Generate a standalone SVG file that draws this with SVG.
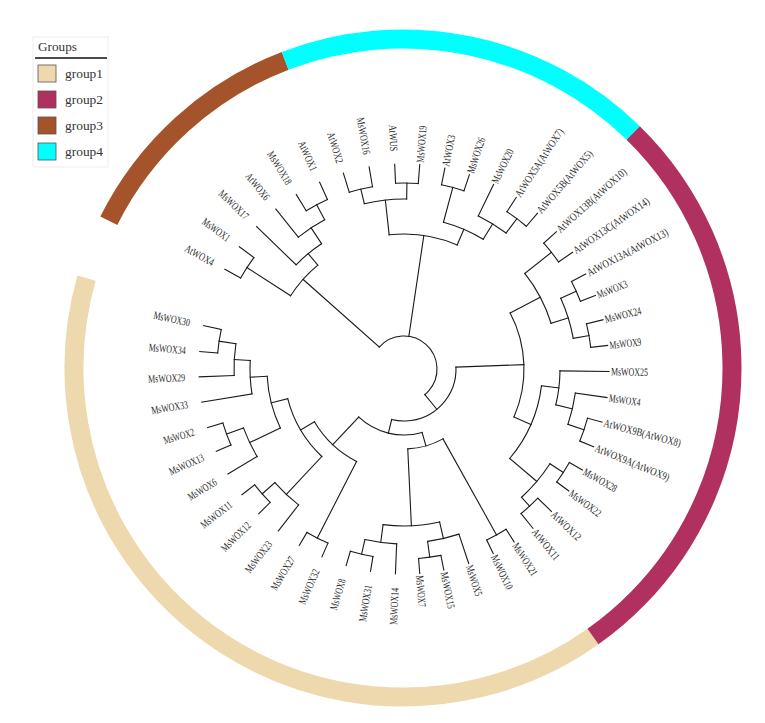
<svg xmlns="http://www.w3.org/2000/svg" width="765" height="723" viewBox="0 0 765 723">
<style>
.br line,.br circle{fill:none;stroke:#1a1a1a;stroke-width:1.1;stroke-linecap:square}
.lb text{font-family:"Liberation Serif",serif;font-size:11px;fill:#2a2a2a}
.lb .l{text-anchor:end}
.lg text{font-family:"Liberation Serif",serif;font-size:13.5px;fill:#333}
.sw{stroke:#555;stroke-width:0.8}
</style>
<rect width="765" height="723" fill="#fff"/>
<g id="group-ring" transform="translate(403 368)" fill="none" stroke-width="19">
<circle r="329" stroke="#EED9AE" stroke-dasharray="810.2 3000" transform="rotate(54.7)"/>
<circle r="329" stroke="#A5532B" stroke-dasharray="243.5 3000" transform="rotate(206.6)"/>
<circle r="329" stroke="#00FFFF" stroke-dasharray="375.5 3000" transform="rotate(249)"/>
<circle r="329" stroke="#B0305F" stroke-dasharray="575.9 3000" transform="rotate(314.4)"/>
</g>
<g id="legend" class="lg">
<rect x="33" y="37" width="75" height="130" fill="#fff" stroke="#eee"/>
<text x="38" y="51" textLength="39" lengthAdjust="spacingAndGlyphs">Groups</text>
<line x1="35" y1="58" x2="107" y2="58" stroke="#111" stroke-width="1.4"/>
<rect class="sw" x="38" y="65" width="18" height="17" fill="#EED9AE"/>
<rect class="sw" x="38" y="91" width="18" height="17" fill="#B0305F"/>
<rect class="sw" x="38" y="117" width="18" height="17" fill="#A5532B"/>
<rect class="sw" x="38" y="143" width="18" height="17" fill="#00FFFF"/>
<text x="65" y="78" textLength="38" lengthAdjust="spacingAndGlyphs">group1</text>
<text x="65" y="104" textLength="38" lengthAdjust="spacingAndGlyphs">group2</text>
<text x="65" y="130" textLength="38" lengthAdjust="spacingAndGlyphs">group3</text>
<text x="65" y="156" textLength="38" lengthAdjust="spacingAndGlyphs">group4</text>
</g>
<g id="tree-branches" class="br" transform="translate(404 369)">
<line x1="187" x2="205" transform="rotate(209.1)"/>
<line x1="187" x2="205" transform="rotate(216.6)"/>
<line x1="150" x2="205" transform="rotate(224)"/>
<line x1="169" x2="205" transform="rotate(231.3)"/>
<line x1="186" x2="205" transform="rotate(238.3)"/>
<line x1="186" x2="205" transform="rotate(245.7)"/>
<line x1="185" x2="205" transform="rotate(252.8)"/>
<line x1="185" x2="205" transform="rotate(260.2)"/>
<line x1="186" x2="205" transform="rotate(267.4)"/>
<line x1="186" x2="205" transform="rotate(274.4)"/>
<line x1="188" x2="205" transform="rotate(281.5)"/>
<line x1="188" x2="205" transform="rotate(288.6)"/>
<line x1="170" x2="205" transform="rotate(295.9)"/>
<line x1="188" x2="205" transform="rotate(303.2)"/>
<line x1="188" x2="205" transform="rotate(310.6)"/>
<line x1="188" x2="205" transform="rotate(318)"/>
<line x1="188" x2="205" transform="rotate(325.3)"/>
<line x1="189" x2="205" transform="rotate(332.4)"/>
<line x1="189" x2="205" transform="rotate(339)"/>
<line x1="188" x2="205" transform="rotate(346.1)"/>
<line x1="188" x2="205" transform="rotate(353.4)"/>
<line x1="156" x2="205" transform="rotate(0.7)"/>
<line x1="173" x2="205" transform="rotate(8)"/>
<line x1="190" x2="205" transform="rotate(15)"/>
<line x1="190" x2="205" transform="rotate(22.3)"/>
<line x1="190" x2="205" transform="rotate(29.5)"/>
<line x1="190" x2="205" transform="rotate(36.5)"/>
<line x1="186" x2="205" transform="rotate(44)"/>
<line x1="186" x2="205" transform="rotate(51)"/>
<line x1="190" x2="205" transform="rotate(57.5)"/>
<line x1="190" x2="205" transform="rotate(64.2)"/>
<line x1="174" x2="205" transform="rotate(71.6)"/>
<line x1="190" x2="205" transform="rotate(78.8)"/>
<line x1="190" x2="205" transform="rotate(85.6)"/>
<line x1="175" x2="205" transform="rotate(92.4)"/>
<line x1="190" x2="205" transform="rotate(99.4)"/>
<line x1="190" x2="205" transform="rotate(106.4)"/>
<line x1="190" x2="205" transform="rotate(113.6)"/>
<line x1="190" x2="205" transform="rotate(120.7)"/>
<line x1="172" x2="205" transform="rotate(127.8)"/>
<line x1="189" x2="205" transform="rotate(135.1)"/>
<line x1="189" x2="205" transform="rotate(142.2)"/>
<line x1="171" x2="205" transform="rotate(149.2)"/>
<line x1="189" x2="205" transform="rotate(156.3)"/>
<line x1="189" x2="205" transform="rotate(163.4)"/>
<line x1="154" x2="205" transform="rotate(170.7)"/>
<line x1="170" x2="205" transform="rotate(177.8)"/>
<line x1="187" x2="205" transform="rotate(184.9)"/>
<line x1="187" x2="205" transform="rotate(192.2)"/>
<line x1="135" x2="187" transform="rotate(212.85)"/>
<line x1="169" x2="186" transform="rotate(242)"/>
<line x1="150" x2="169" transform="rotate(236.65)"/>
<line x1="135" x2="150" transform="rotate(230.3)"/>
<line x1="33" x2="135" transform="rotate(221.6)"/>
<line x1="170" x2="185" transform="rotate(256.5)"/>
<line x1="170" x2="186" transform="rotate(270.9)"/>
<line x1="135" x2="170" transform="rotate(263.7)"/>
<line x1="152" x2="188" transform="rotate(285.05)"/>
<line x1="170" x2="188" transform="rotate(306.9)"/>
<line x1="152" x2="170" transform="rotate(301.4)"/>
<line x1="135" x2="152" transform="rotate(293.2)"/>
<line x1="33" x2="135" transform="rotate(278.45)"/>
<line x1="154" x2="188" transform="rotate(321.65)"/>
<line x1="172" x2="189" transform="rotate(335.7)"/>
<line x1="172" x2="188" transform="rotate(349.75)"/>
<line x1="154" x2="172" transform="rotate(342.7)"/>
<line x1="120" x2="154" transform="rotate(332.2)"/>
<line x1="173" x2="190" transform="rotate(18.65)"/>
<line x1="156" x2="173" transform="rotate(13.3)"/>
<line x1="138.5" x2="156" transform="rotate(7)"/>
<line x1="174" x2="190" transform="rotate(33)"/>
<line x1="174" x2="186" transform="rotate(47.5)"/>
<line x1="138.5" x2="174" transform="rotate(40.25)"/>
<line x1="120" x2="138.5" transform="rotate(23.6)"/>
<line x1="52" x2="120" transform="rotate(357.9)"/>
<line x1="80" x2="190" transform="rotate(60.85)"/>
<line x1="174" x2="190" transform="rotate(82.2)"/>
<line x1="157" x2="174" transform="rotate(76.9)"/>
<line x1="175" x2="190" transform="rotate(102.9)"/>
<line x1="157" x2="175" transform="rotate(97.65)"/>
<line x1="80" x2="157" transform="rotate(87.3)"/>
<line x1="66" x2="80" transform="rotate(74.1)"/>
<line x1="104" x2="190" transform="rotate(117.15)"/>
<line x1="172" x2="189" transform="rotate(138.65)"/>
<line x1="120" x2="172" transform="rotate(133.2)"/>
<line x1="171" x2="189" transform="rotate(159.85)"/>
<line x1="137" x2="171" transform="rotate(154.5)"/>
<line x1="170" x2="187" transform="rotate(188.55)"/>
<line x1="154" x2="170" transform="rotate(183.2)"/>
<line x1="137" x2="154" transform="rotate(176.95)"/>
<line x1="120" x2="137" transform="rotate(165.7)"/>
<line x1="104" x2="120" transform="rotate(149.45)"/>
<line x1="66" x2="104" transform="rotate(133.3)"/>
<line x1="52" x2="66" transform="rotate(103.7)"/>
<line x1="33" x2="52" transform="rotate(50.8)"/>
<circle r="187" stroke-dasharray="24.48 3000" transform="rotate(209.1)"/>
<circle r="186" stroke-dasharray="24.02 3000" transform="rotate(238.3)"/>
<circle r="169" stroke-dasharray="31.56 3000" transform="rotate(231.3)"/>
<circle r="150" stroke-dasharray="33.12 3000" transform="rotate(224)"/>
<circle r="135" stroke-dasharray="41.12 3000" transform="rotate(212.85)"/>
<circle r="185" stroke-dasharray="23.89 3000" transform="rotate(252.8)"/>
<circle r="186" stroke-dasharray="22.72 3000" transform="rotate(267.4)"/>
<circle r="170" stroke-dasharray="42.73 3000" transform="rotate(256.5)"/>
<circle r="188" stroke-dasharray="23.30 3000" transform="rotate(281.5)"/>
<circle r="188" stroke-dasharray="24.28 3000" transform="rotate(303.2)"/>
<circle r="170" stroke-dasharray="32.64 3000" transform="rotate(295.9)"/>
<circle r="152" stroke-dasharray="43.37 3000" transform="rotate(285.05)"/>
<circle r="135" stroke-dasharray="69.51 3000" transform="rotate(263.7)"/>
<circle r="188" stroke-dasharray="23.95 3000" transform="rotate(318)"/>
<circle r="189" stroke-dasharray="21.77 3000" transform="rotate(332.4)"/>
<circle r="188" stroke-dasharray="23.95 3000" transform="rotate(346.1)"/>
<circle r="172" stroke-dasharray="42.18 3000" transform="rotate(335.7)"/>
<circle r="154" stroke-dasharray="56.58 3000" transform="rotate(321.65)"/>
<circle r="190" stroke-dasharray="24.21 3000" transform="rotate(15)"/>
<circle r="173" stroke-dasharray="32.16 3000" transform="rotate(8)"/>
<circle r="156" stroke-dasharray="34.31 3000" transform="rotate(0.7)"/>
<circle r="190" stroke-dasharray="23.21 3000" transform="rotate(29.5)"/>
<circle r="186" stroke-dasharray="22.72 3000" transform="rotate(44)"/>
<circle r="174" stroke-dasharray="44.03 3000" transform="rotate(33)"/>
<circle r="138.5" stroke-dasharray="80.37 3000" transform="rotate(7)"/>
<circle r="120" stroke-dasharray="107.65 3000" transform="rotate(332.2)"/>
<circle r="190" stroke-dasharray="22.22 3000" transform="rotate(57.5)"/>
<circle r="190" stroke-dasharray="22.55 3000" transform="rotate(78.8)"/>
<circle r="174" stroke-dasharray="32.19 3000" transform="rotate(71.6)"/>
<circle r="190" stroke-dasharray="23.21 3000" transform="rotate(99.4)"/>
<circle r="175" stroke-dasharray="32.07 3000" transform="rotate(92.4)"/>
<circle r="157" stroke-dasharray="56.86 3000" transform="rotate(76.9)"/>
<circle r="80" stroke-dasharray="36.93 3000" transform="rotate(60.85)"/>
<circle r="190" stroke-dasharray="23.54 3000" transform="rotate(113.6)"/>
<circle r="189" stroke-dasharray="23.42 3000" transform="rotate(135.1)"/>
<circle r="172" stroke-dasharray="32.57 3000" transform="rotate(127.8)"/>
<circle r="189" stroke-dasharray="23.42 3000" transform="rotate(156.3)"/>
<circle r="171" stroke-dasharray="31.79 3000" transform="rotate(149.2)"/>
<circle r="187" stroke-dasharray="23.83 3000" transform="rotate(184.9)"/>
<circle r="170" stroke-dasharray="31.90 3000" transform="rotate(177.8)"/>
<circle r="154" stroke-dasharray="33.60 3000" transform="rotate(170.7)"/>
<circle r="137" stroke-dasharray="53.68 3000" transform="rotate(154.5)"/>
<circle r="120" stroke-dasharray="68.07 3000" transform="rotate(133.2)"/>
<circle r="104" stroke-dasharray="58.63 3000" transform="rotate(117.15)"/>
<circle r="66" stroke-dasharray="68.19 3000" transform="rotate(74.1)"/>
<circle r="52" stroke-dasharray="96.02 3000" transform="rotate(357.9)"/>
<circle r="33" stroke-dasharray="108.97 3000" transform="rotate(221.6)"/>
</g>
<g id="leaves" class="lb" transform="translate(404 369)">
<g id="AtWOX4"><text class="l" transform="rotate(209.1) translate(218 0) rotate(180)" y="3.8" textLength="31.8" lengthAdjust="spacingAndGlyphs">AtWOX4</text></g>
<g id="MsWOX1"><text class="l" transform="rotate(216.6) translate(218 0) rotate(180)" y="3.8" textLength="31.8" lengthAdjust="spacingAndGlyphs">MsWOX1</text></g>
<g id="MsWOX17"><text class="l" transform="rotate(224) translate(218 0) rotate(180)" y="3.8" textLength="37.1" lengthAdjust="spacingAndGlyphs">MsWOX17</text></g>
<g id="AtWOX6"><text class="l" transform="rotate(231.3) translate(218 0) rotate(180)" y="3.8" textLength="31.8" lengthAdjust="spacingAndGlyphs">AtWOX6</text></g>
<g id="MsWOX18"><text class="l" transform="rotate(238.3) translate(218 0) rotate(180)" y="3.8" textLength="37.1" lengthAdjust="spacingAndGlyphs">MsWOX18</text></g>
<g id="AtWOX1"><text class="l" transform="rotate(245.7) translate(218 0) rotate(180)" y="3.8" textLength="31.8" lengthAdjust="spacingAndGlyphs">AtWOX1</text></g>
<g id="AtWOX2"><text class="l" transform="rotate(252.8) translate(216 0) rotate(180)" y="3.8" textLength="31.8" lengthAdjust="spacingAndGlyphs">AtWOX2</text></g>
<g id="MsWOX16"><text class="l" transform="rotate(260.2) translate(218 0) rotate(180)" y="3.8" textLength="37.1" lengthAdjust="spacingAndGlyphs">MsWOX16</text></g>
<g id="AtWUS"><text class="l" transform="rotate(267.4) translate(218 0) rotate(180)" y="3.8" textLength="26.5" lengthAdjust="spacingAndGlyphs">AtWUS</text></g>
<g id="MsWOX19"><text transform="rotate(274.4) translate(207 0)" y="3.8" textLength="37.1" lengthAdjust="spacingAndGlyphs">MsWOX19</text></g>
<g id="AtWOX3"><text transform="rotate(281.5) translate(207 0)" y="3.8" textLength="31.8" lengthAdjust="spacingAndGlyphs">AtWOX3</text></g>
<g id="MsWOX26"><text transform="rotate(288.6) translate(207 0)" y="3.8" textLength="37.1" lengthAdjust="spacingAndGlyphs">MsWOX26</text></g>
<g id="MsWOX20"><text transform="rotate(295.9) translate(207 0)" y="3.8" textLength="37.1" lengthAdjust="spacingAndGlyphs">MsWOX20</text></g>
<g id="AtWOX5A"><text transform="rotate(303.2) translate(207 0)" y="3.8" textLength="79.5" lengthAdjust="spacingAndGlyphs">AtWOX5A(AtWOX7)</text></g>
<g id="AtWOX5B"><text transform="rotate(310.6) translate(207 0)" y="3.8" textLength="79.5" lengthAdjust="spacingAndGlyphs">AtWOX5B(AtWOX5)</text></g>
<g id="AtWOX13B"><text transform="rotate(318) translate(207 0)" y="3.8" textLength="90.1" lengthAdjust="spacingAndGlyphs">AtWOX13B(AtWOX10)</text></g>
<g id="AtWOX13C"><text transform="rotate(325.3) translate(207 0)" y="3.8" textLength="90.1" lengthAdjust="spacingAndGlyphs">AtWOX13C(AtWOX14)</text></g>
<g id="AtWOX13A"><text transform="rotate(332.4) translate(207 0)" y="3.8" textLength="90.1" lengthAdjust="spacingAndGlyphs">AtWOX13A(AtWOX13)</text></g>
<g id="MsWOX3"><text transform="rotate(339) translate(207 0)" y="3.8" textLength="31.8" lengthAdjust="spacingAndGlyphs">MsWOX3</text></g>
<g id="MsWOX24"><text transform="rotate(346.1) translate(207 0)" y="3.8" textLength="37.1" lengthAdjust="spacingAndGlyphs">MsWOX24</text></g>
<g id="MsWOX9"><text transform="rotate(353.4) translate(207 0)" y="3.8" textLength="31.8" lengthAdjust="spacingAndGlyphs">MsWOX9</text></g>
<g id="MsWOX25"><text transform="rotate(0.7) translate(207 0)" y="3.8" textLength="37.1" lengthAdjust="spacingAndGlyphs">MsWOX25</text></g>
<g id="MsWOX4"><text transform="rotate(8) translate(207 0)" y="3.8" textLength="31.8" lengthAdjust="spacingAndGlyphs">MsWOX4</text></g>
<g id="AtWOX9B"><text transform="rotate(15) translate(207 0)" y="3.8" textLength="79.5" lengthAdjust="spacingAndGlyphs">AtWOX9B(AtWOX8)</text></g>
<g id="AtWOX9A"><text transform="rotate(22.3) translate(207 0)" y="3.8" textLength="79.5" lengthAdjust="spacingAndGlyphs">AtWOX9A(AtWOX9)</text></g>
<g id="MsWOX28"><text transform="rotate(29.5) translate(207 0)" y="3.8" textLength="37.1" lengthAdjust="spacingAndGlyphs">MsWOX28</text></g>
<g id="MsWOX22"><text transform="rotate(36.5) translate(207 0)" y="3.8" textLength="37.1" lengthAdjust="spacingAndGlyphs">MsWOX22</text></g>
<g id="AtWOX12"><text transform="rotate(44) translate(207 0)" y="3.8" textLength="37.1" lengthAdjust="spacingAndGlyphs">AtWOX12</text></g>
<g id="AtWOX11"><text transform="rotate(51) translate(207 0)" y="3.8" textLength="37.1" lengthAdjust="spacingAndGlyphs">AtWOX11</text></g>
<g id="MsWOX21"><text transform="rotate(57.5) translate(207 0)" y="3.8" textLength="37.1" lengthAdjust="spacingAndGlyphs">MsWOX21</text></g>
<g id="MsWOX10"><text transform="rotate(64.2) translate(207 0)" y="3.8" textLength="37.1" lengthAdjust="spacingAndGlyphs">MsWOX10</text></g>
<g id="MsWOX5"><text transform="rotate(71.6) translate(207 0)" y="3.8" textLength="31.8" lengthAdjust="spacingAndGlyphs">MsWOX5</text></g>
<g id="MsWOX15"><text transform="rotate(78.8) translate(207 0)" y="3.8" textLength="37.1" lengthAdjust="spacingAndGlyphs">MsWOX15</text></g>
<g id="MsWOX7"><text transform="rotate(85.6) translate(207 0)" y="3.8" textLength="31.8" lengthAdjust="spacingAndGlyphs">MsWOX7</text></g>
<g id="MsWOX14"><text class="l" transform="rotate(92.4) translate(219 0) rotate(180)" y="3.8" textLength="37.1" lengthAdjust="spacingAndGlyphs">MsWOX14</text></g>
<g id="MsWOX31"><text class="l" transform="rotate(99.4) translate(219 0) rotate(180)" y="3.8" textLength="37.1" lengthAdjust="spacingAndGlyphs">MsWOX31</text></g>
<g id="MsWOX8"><text class="l" transform="rotate(106.4) translate(219 0) rotate(180)" y="3.8" textLength="31.8" lengthAdjust="spacingAndGlyphs">MsWOX8</text></g>
<g id="MsWOX32"><text class="l" transform="rotate(113.6) translate(219 0) rotate(180)" y="3.8" textLength="37.1" lengthAdjust="spacingAndGlyphs">MsWOX32</text></g>
<g id="MsWOX27"><text class="l" transform="rotate(120.7) translate(219 0) rotate(180)" y="3.8" textLength="37.1" lengthAdjust="spacingAndGlyphs">MsWOX27</text></g>
<g id="MsWOX23"><text class="l" transform="rotate(127.8) translate(219 0) rotate(180)" y="3.8" textLength="37.1" lengthAdjust="spacingAndGlyphs">MsWOX23</text></g>
<g id="MsWOX12"><text class="l" transform="rotate(135.1) translate(219 0) rotate(180)" y="3.8" textLength="37.1" lengthAdjust="spacingAndGlyphs">MsWOX12</text></g>
<g id="MsWOX11"><text class="l" transform="rotate(142.2) translate(219 0) rotate(180)" y="3.8" textLength="37.1" lengthAdjust="spacingAndGlyphs">MsWOX11</text></g>
<g id="MsWOX6"><text class="l" transform="rotate(149.2) translate(219 0) rotate(180)" y="3.8" textLength="31.8" lengthAdjust="spacingAndGlyphs">MsWOX6</text></g>
<g id="MsWOX13"><text class="l" transform="rotate(156.3) translate(219 0) rotate(180)" y="3.8" textLength="37.1" lengthAdjust="spacingAndGlyphs">MsWOX13</text></g>
<g id="MsWOX2"><text class="l" transform="rotate(163.4) translate(219 0) rotate(180)" y="3.8" textLength="31.8" lengthAdjust="spacingAndGlyphs">MsWOX2</text></g>
<g id="MsWOX33"><text class="l" transform="rotate(170.7) translate(219 0) rotate(180)" y="3.8" textLength="37.1" lengthAdjust="spacingAndGlyphs">MsWOX33</text></g>
<g id="MsWOX29"><text class="l" transform="rotate(177.8) translate(219 0) rotate(180)" y="3.8" textLength="37.1" lengthAdjust="spacingAndGlyphs">MsWOX29</text></g>
<g id="MsWOX34"><text class="l" transform="rotate(184.9) translate(219 0) rotate(180)" y="3.8" textLength="37.1" lengthAdjust="spacingAndGlyphs">MsWOX34</text></g>
<g id="MsWOX30"><text class="l" transform="rotate(192.2) translate(219 0) rotate(180)" y="3.8" textLength="37.1" lengthAdjust="spacingAndGlyphs">MsWOX30</text></g>
</g>
</svg>
